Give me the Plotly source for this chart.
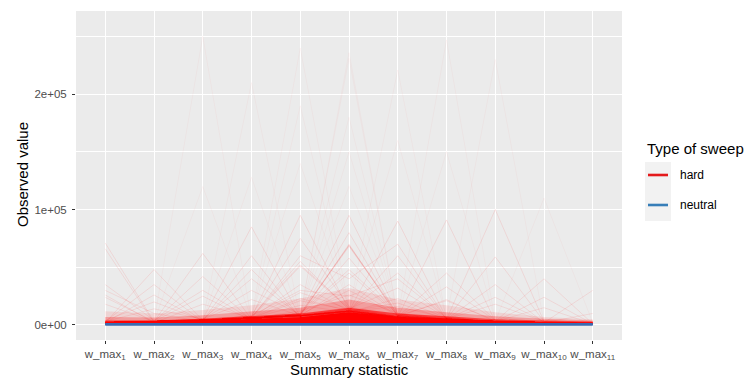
import plotly.graph_objects as go

# ---- data (observed values in thousands) ----
stat_labels = [
    "w_max<sub>1</sub>", "w_max<sub>2</sub>", "w_max<sub>3</sub>", "w_max<sub>4</sub>",
    "w_max<sub>5</sub>", "w_max<sub>6</sub>", "w_max<sub>7</sub>", "w_max<sub>8</sub>",
    "w_max<sub>9</sub>", "w_max<sub>10</sub>", "w_max<sub>11</sub>",
]

# envelopes of the dense bulk of hard-sweep replicates (outer -> inner)
hard_env_outer = [12, 10, 13, 17, 23, 32, 22, 17, 11, 7, 5]
hard_env_wide = [7, 6.5, 8.5, 11.5, 15, 22, 15, 11, 7.5, 5.5, 4]
hard_env_mid = [4.0, 4.0, 5.5, 7.5, 10, 15, 10, 7.5, 5, 3.8, 3.0]
hard_env_core = [2.6, 2.8, 3.8, 5.2, 6.8, 11, 6.8, 5.2, 3.4, 2.7, 2.3]

# individual hard-sweep replicates standing out above the bulk
hard_lines = [
    [71, 3, 2, 2, 3, 5, 3, 2, 2, 1, 1],
    [66, 2, 2, 3, 3, 6, 3, 2, 2, 1, 1],
    [35, 4, 3, 3, 4, 6, 4, 3, 2, 2, 1],
    [24, 3, 3, 3, 4, 7, 4, 3, 2, 2, 1],
    [26, 2, 3, 4, 5, 8, 5, 3, 2, 2, 2],
    [18, 3, 2, 3, 5, 9, 4, 3, 2, 2, 1],
    [30, 10, 3, 2, 4, 6, 3, 2, 2, 1, 1],
    [3, 35, 3, 3, 4, 6, 4, 3, 2, 2, 1],
    [2, 26, 3, 3, 5, 7, 4, 3, 2, 2, 1],
    [4, 20, 4, 3, 4, 8, 5, 3, 2, 2, 1],
    [2, 48, 4, 3, 4, 6, 4, 3, 2, 1, 1],
    [3, 14, 5, 4, 5, 9, 5, 3, 3, 2, 1],
    [2, 3, 250, 4, 5, 7, 4, 3, 2, 2, 1],
    [3, 3, 42, 4, 5, 8, 5, 3, 2, 2, 1],
    [2, 3, 25, 4, 6, 8, 5, 3, 2, 2, 1],
    [3, 4, 30, 5, 6, 9, 5, 3, 2, 2, 1],
    [2, 3, 62, 5, 5, 8, 4, 3, 2, 2, 1],
    [3, 2, 18, 6, 7, 10, 6, 4, 3, 2, 1],
    [2, 3, 120, 6, 5, 8, 5, 3, 2, 2, 1],
    [2, 3, 4, 128, 6, 9, 5, 3, 2, 2, 1],
    [2, 3, 4, 48, 7, 10, 5, 4, 3, 2, 1],
    [3, 3, 5, 40, 8, 11, 6, 4, 3, 2, 1],
    [2, 3, 4, 60, 6, 9, 5, 3, 2, 2, 1],
    [2, 3, 5, 30, 9, 12, 6, 4, 3, 2, 1],
    [3, 4, 5, 22, 8, 10, 6, 4, 3, 2, 2],
    [2, 3, 5, 85, 7, 9, 5, 4, 3, 2, 1],
    [3, 3, 4, 210, 6, 8, 5, 3, 2, 2, 1],
    [2, 3, 4, 6, 23, 12, 6, 4, 3, 2, 1],
    [2, 3, 4, 6, 21, 13, 6, 4, 3, 2, 1],
    [2, 3, 4, 6, 51, 14, 7, 4, 3, 2, 1],
    [2, 3, 4, 7, 55, 13, 6, 4, 3, 2, 1],
    [2, 3, 4, 7, 52, 15, 6, 4, 3, 2, 1],
    [3, 3, 5, 8, 140, 15, 7, 4, 3, 2, 1],
    [2, 3, 5, 7, 95, 13, 6, 4, 3, 2, 1],
    [2, 3, 4, 6, 35, 12, 6, 4, 3, 2, 1],
    [2, 3, 4, 6, 17, 11, 6, 4, 3, 2, 1],
    [3, 4, 5, 7, 240, 14, 7, 4, 3, 2, 1],
    [2, 3, 5, 8, 75, 16, 7, 4, 3, 2, 1],
    [2, 3, 4, 6, 28, 14, 6, 4, 3, 2, 1],
    [3, 3, 4, 6, 190, 12, 6, 4, 3, 2, 1],
    [2, 3, 4, 6, 9, 69, 8, 5, 3, 2, 1],
    [2, 3, 4, 6, 8, 70, 7, 5, 3, 2, 1],
    [2, 3, 4, 7, 9, 68, 9, 5, 3, 2, 1],
    [2, 3, 4, 6, 10, 69, 10, 5, 3, 2, 1],
    [2, 3, 4, 6, 8, 236, 8, 5, 3, 2, 1],
    [2, 3, 5, 6, 9, 231, 7, 5, 3, 2, 1],
    [3, 3, 4, 6, 9, 180, 8, 5, 3, 2, 1],
    [2, 3, 4, 6, 10, 48, 9, 5, 3, 2, 1],
    [2, 3, 4, 7, 9, 45, 8, 5, 3, 2, 1],
    [2, 3, 4, 6, 8, 35, 8, 5, 3, 2, 1],
    [2, 3, 4, 6, 9, 30, 8, 5, 3, 2, 1],
    [2, 3, 4, 6, 11, 120, 9, 5, 3, 2, 1],
    [2, 3, 5, 7, 10, 95, 10, 6, 3, 2, 1],
    [2, 3, 4, 6, 9, 150, 8, 5, 3, 2, 1],
    [2, 3, 4, 6, 12, 26, 10, 5, 3, 2, 1],
    [2, 3, 4, 6, 9, 58, 8, 5, 3, 2, 1],
    [2, 3, 4, 6, 9, 80, 8, 5, 3, 2, 1],
    [2, 3, 4, 6, 60, 40, 70, 5, 3, 2, 1],
    [2, 3, 4, 8, 30, 25, 40, 6, 3, 2, 1],
    [2, 3, 4, 6, 8, 12, 19, 5, 3, 2, 1],
    [2, 3, 4, 6, 8, 11, 23, 6, 3, 2, 1],
    [2, 3, 4, 6, 9, 12, 16, 6, 3, 2, 1],
    [2, 3, 4, 6, 8, 13, 45, 6, 3, 2, 1],
    [2, 3, 4, 6, 8, 12, 90, 6, 3, 2, 1],
    [2, 3, 4, 6, 8, 12, 221, 5, 3, 2, 1],
    [2, 3, 4, 6, 9, 13, 160, 6, 3, 2, 1],
    [2, 3, 4, 6, 8, 12, 60, 5, 3, 2, 1],
    [2, 3, 4, 6, 8, 14, 32, 6, 3, 2, 1],
    [2, 3, 4, 6, 8, 12, 7, 91, 3, 2, 1],
    [2, 3, 4, 6, 8, 12, 7, 45, 4, 2, 1],
    [2, 3, 4, 6, 8, 11, 7, 22, 3, 2, 1],
    [2, 3, 4, 6, 8, 12, 8, 21, 4, 2, 1],
    [2, 3, 4, 6, 8, 12, 7, 150, 4, 2, 1],
    [2, 3, 4, 6, 8, 12, 7, 247, 3, 2, 1],
    [2, 3, 4, 6, 8, 12, 7, 33, 4, 2, 1],
    [2, 3, 4, 6, 8, 12, 7, 5, 35, 2, 1],
    [2, 3, 4, 6, 8, 12, 7, 5, 59, 3, 1],
    [2, 3, 4, 6, 8, 12, 7, 5, 24, 3, 1],
    [2, 3, 4, 6, 8, 12, 7, 6, 230, 2, 1],
    [2, 3, 4, 6, 8, 12, 7, 5, 100, 3, 1],
    [2, 3, 4, 6, 8, 12, 7, 5, 18, 3, 1],
    [2, 3, 4, 6, 8, 12, 7, 5, 3, 24, 1],
    [2, 3, 4, 6, 8, 12, 7, 5, 3, 15, 1],
    [2, 3, 4, 6, 8, 12, 7, 5, 3, 40, 1],
    [2, 3, 4, 6, 8, 12, 7, 5, 3, 110, 2],
    [2, 3, 4, 6, 8, 12, 7, 5, 3, 2, 10],
    [2, 3, 4, 6, 8, 12, 7, 5, 3, 2, 30],
]

# neutral replicates stay in a thin band near zero
neutral_upper = [1.1, 1.1, 1.2, 1.2, 1.2, 1.3, 1.2, 1.2, 1.1, 1.1, 1.1]
neutral_lower = [0.1, 0.1, 0.1, 0.1, 0.1, 0.1, 0.1, 0.1, 0.1, 0.1, 0.1]

y_tick_vals = [0, 100, 200]
y_tick_text = ["0e+00", "1e+05", "2e+05"]
y_minor_vals = [50, 150, 250]

legend_title = "Type of sweep"
legend_names = ["hard", "neutral"]

# ---- styling ----
FONT = "Liberation Sans, Arial, Helvetica, sans-serif"
HARD_KEY = "#E41A1C"
NEUTRAL_FILL = "#3B6BB0"
NEUTRAL_KEY = "#377EB8"

W, H = 750, 378
L, R, T, B = 76, 128, 11, 38
PW, PH = W - L - R, H - T - B


def px_x(x):
    return (x - L) / PW


def px_y(y):
    return (H - B - y) / PH


def line_alpha(row):
    # isolated tall excursions are single replicates, so they stay faint
    return 0.03 if max(row) > 100 else 0.09


x_pos = list(range(1, len(stat_labels) + 1))

fig = go.Figure()

# bulk of hard sweeps: nested envelopes, faint outside, solid at the core
for env, alpha in [(hard_env_outer, 0.1), (hard_env_wide, 0.25),
                   (hard_env_mid, 0.6), (hard_env_core, 1.0)]:
    fig.add_trace(go.Scatter(
        x=x_pos, y=env, mode="lines", fill="tozeroy",
        fillcolor=f"rgba(255,0,0,{alpha})", line=dict(width=0),
        showlegend=False, hoverinfo="skip",
    ))

for row in hard_lines:
    fig.add_trace(go.Scatter(
        x=x_pos, y=row, mode="lines",
        line=dict(color=f"rgba(255,0,0,{line_alpha(row)})", width=1),
        showlegend=False, hoverinfo="skip",
    ))

# neutral band
fig.add_trace(go.Scatter(
    x=x_pos, y=neutral_lower, mode="lines",
    line=dict(color=NEUTRAL_FILL, width=1.6),
    showlegend=False, hoverinfo="skip",
))
fig.add_trace(go.Scatter(
    x=x_pos, y=neutral_upper, mode="lines", fill="tonexty",
    fillcolor=NEUTRAL_FILL, line=dict(color=NEUTRAL_FILL, width=1.6),
    showlegend=False, hoverinfo="skip",
))

# legend drawn by hand in ggplot style
shapes = [
    dict(type="rect", xref="paper", yref="paper",
         x0=px_x(645), x1=px_x(671), y0=px_y(221), y1=px_y(162),
         fillcolor="#F2F2F2", line=dict(width=0), layer="below"),
]
annotations = [
    dict(text="Summary statistic", xref="paper", yref="paper",
         x=0.5, y=px_y(359), xanchor="center", yanchor="top",
         showarrow=False, font=dict(family=FONT, size=15, color="black")),
    dict(text="Observed value", xref="paper", yref="paper",
         x=px_x(22), y=px_y(175), xanchor="center", yanchor="middle",
         textangle=-90, showarrow=False,
         font=dict(family=FONT, size=15, color="black")),
    dict(text=legend_title, xref="paper", yref="paper",
         x=px_x(645), y=px_y(148), xanchor="left", yanchor="middle",
         showarrow=False, font=dict(family=FONT, size=15, color="black")),
]
for name, color, yc in zip(legend_names, [HARD_KEY, NEUTRAL_KEY], [175, 205]):
    shapes.append(dict(type="line", xref="paper", yref="paper",
                       x0=px_x(648), x1=px_x(668), y0=px_y(yc), y1=px_y(yc),
                       line=dict(color=color, width=2.6)))
    annotations.append(dict(text=name, xref="paper", yref="paper",
                            x=px_x(678), y=px_y(yc), xanchor="left",
                            yanchor="middle", showarrow=False,
                            font=dict(family=FONT, size=12, color="black")))

fig.update_layout(
    width=W, height=H,
    margin=dict(l=L, r=R, t=T, b=B, pad=0),
    paper_bgcolor="white", plot_bgcolor="#EBEBEB",
    font=dict(family=FONT),
    showlegend=False,
    shapes=shapes, annotations=annotations,
    xaxis=dict(
        range=[0.4, 11.6], tickmode="array", tickvals=x_pos, ticktext=stat_labels,
        showgrid=True, gridcolor="white", gridwidth=1.1, zeroline=False,
        ticks="outside", ticklen=3, tickwidth=1, tickcolor="#333333",
        tickangle=0, automargin=False,
        tickfont=dict(family=FONT, size=11.5, color="#4D4D4D"),
        showline=False, fixedrange=True,
    ),
    yaxis=dict(
        range=[-13, 272], tickmode="array", tickvals=y_tick_vals, ticktext=y_tick_text,
        showgrid=True, gridcolor="white", gridwidth=1.1, zeroline=False,
        minor=dict(tickvals=y_minor_vals, showgrid=True, gridcolor="white",
                   gridwidth=0.55, ticks=""),
        ticks="outside", ticklen=3, tickwidth=1, tickcolor="#333333",
        automargin=False, ticklabelstandoff=3,
        tickfont=dict(family=FONT, size=11.5, color="#4D4D4D"),
        showline=False, fixedrange=True,
    ),
)

fig.write_html("out.html")
